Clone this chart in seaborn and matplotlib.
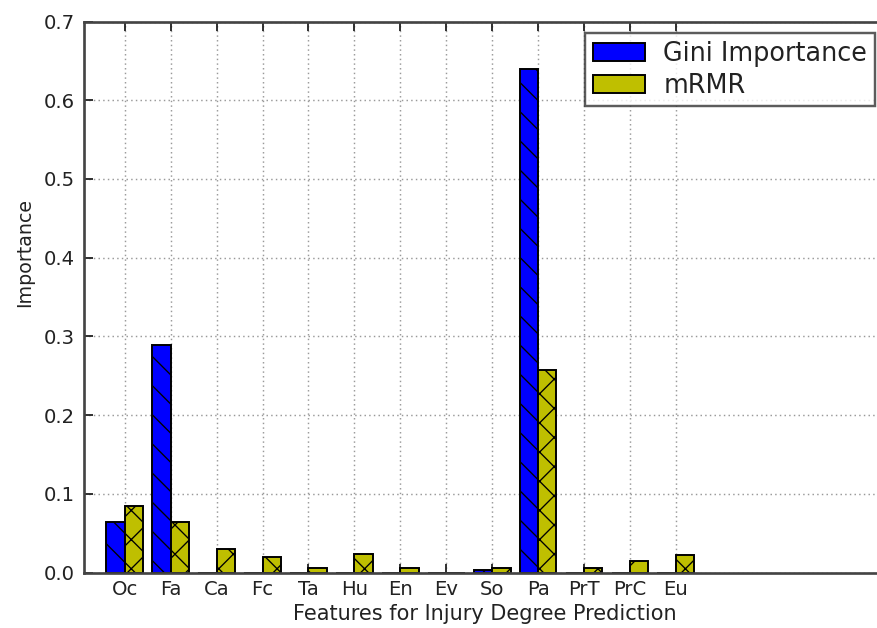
import matplotlib
matplotlib.use("Agg")
import matplotlib.pyplot as plt
import seaborn as sns
import pandas as pd

# Feature codes on the x axis
features = ["Oc", "Fa", "Ca", "Fc", "Ta", "Hu", "En", "Ev", "So", "Pa", "PrT", "PrC", "Eu"]
# Importance scores for each feature
gini_importance = [0.064, 0.289, 0.0, 0.0, 0.0, 0.0, 0.0, 0.0, 0.003, 0.640, 0.0, 0.0, 0.0]
mrmr_score = [0.085, 0.064, 0.030, 0.020, 0.006, 0.024, 0.006, 0.0, 0.006, 0.257, 0.006, 0.014, 0.022]
series_names = ["Gini Importance", "mRMR"]
y_ticks = [0.0, 0.1, 0.2, 0.3, 0.4, 0.5, 0.6, 0.7]

df = pd.DataFrame({
    "feature": features * 2,
    "importance": gini_importance + mrmr_score,
    "method": [series_names[0]] * len(features) + [series_names[1]] * len(features),
})

sns.set_style("ticks")
plt.rcParams["font.family"] = ["DejaVu Sans"]
plt.rcParams["hatch.linewidth"] = 0.55

DPI = 175
fig = plt.figure(figsize=(877 / DPI, 628 / DPI), dpi=DPI)
ax = fig.add_axes([83.5 / 877, (628 - 572.5) / 628, (887 - 83.5) / 877, (572.5 - 21.5) / 628])

sns.barplot(
    data=df, x="feature", y="importance", hue="method",
    order=features, hue_order=series_names,
    palette=["#0000ff", "#bfbf00"], saturation=1, width=0.8,
    errorbar=None, edgecolor="black", linewidth=0.8, ax=ax,
)

for container, hatch in zip(ax.containers, ["\\\\", "xx"]):
    for bar in container:
        bar.set_hatch(hatch)

ax.set_xlim(-0.9, 16.6)
ax.set_ylim(0, 0.7)
ax.set_yticks(y_ticks)
ax.set_yticklabels([f"{v:.1f}" for v in y_ticks])

ax.grid(True, linestyle=(0, (1, 2.2)), color="0.6", linewidth=0.6)
ax.set_axisbelow(True)

ax.tick_params(direction="in", top=True, right=True, length=3.8, width=0.75,
               labelsize=8.1, colors="#222222", pad=3.6)
ax.tick_params(axis="x", pad=3.0)
for s in ax.spines.values():
    s.set_linewidth(1.1)
    s.set_color("#444444")

ax.set_xlabel("Features for Injury Degree Prediction", fontsize=8.6, color="#222222", labelpad=2)
ax.set_ylabel("Importance", fontsize=7.8, color="#222222", labelpad=4)
ax.yaxis.label.set_y(0.58)

handles, labels = ax.get_legend_handles_labels()
leg = ax.legend(
    handles, labels, loc="upper right",
    bbox_to_anchor=(875 / 877, (628 - 33) / 628), bbox_transform=fig.transFigure,
    borderaxespad=0, fontsize=10.5, frameon=True, fancybox=False,
    borderpad=0.3, labelspacing=0.24, handlelength=2.05, handleheight=0.7,
    handletextpad=0.72,
)
leg.get_frame().set_edgecolor("#333333")
leg.get_frame().set_linewidth(1.0)
for t in leg.get_texts():
    t.set_color("#222222")

fig.savefig("out.png", dpi=DPI)
